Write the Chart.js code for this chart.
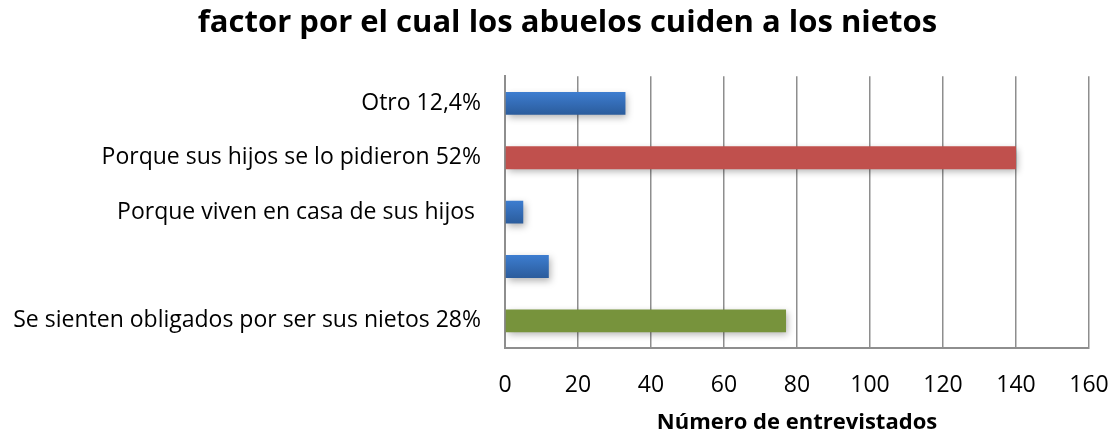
<!DOCTYPE html>
<html>
<head>
<meta charset="utf-8">
<script src="https://cdn.jsdelivr.net/npm/chart.js@4"></script>
<style>
  html, body { margin: 0; padding: 0; background: #fff; }
  #wrap { width: 1114px; height: 437px; position: relative; }
</style>
</head>
<body>
<div id="wrap"><canvas id="chart"></canvas></div>
<script>
'use strict';

// ── Data ──────────────────────────────────────────────────
const categories = [
    'Otro 12,4%',
    'Porque sus hijos se lo pidieron 52%',
    'Porque viven en casa de sus hijos ',
    '',
    'Se sienten obligados por ser sus nietos 28%'
];
const values     = [33, 140, 5, 12, 77];
const barKinds   = ['blue', 'red', 'blue', 'blue', 'green'];
const xTicks     = [0, 20, 40, 60, 80, 100, 120, 140, 160];

const FONT = "'Open Sans', sans-serif";
const BAR_PCT = 0.42;

// ── Bar fill: Office-like blue gradient, flat red/green ───
function barFill(c) {
    const kind = barKinds[c.dataIndex];
    if (kind === 'red') return '#c0504d';
    if (kind === 'green') return '#77933c';
    const chart = c.chart;
    if (!chart.chartArea) return '#3a70b8';
    const yc = chart.scales.y.getPixelForValue(c.dataIndex);
    const h = chart.chartArea.height / categories.length * BAR_PCT;
    const g = chart.ctx.createLinearGradient(0, yc - h / 2, 0, yc + h / 2);
    g.addColorStop(0, '#3d7dd0');
    g.addColorStop(1, '#2b5c9c');
    return g;
}

const shadowPlugin = {
    id: 'barShadow',
    beforeDatasetDraw(chart) {
        const ctx = chart.ctx;
        ctx.save();
        ctx.shadowColor = 'rgba(0,0,0,0.3)';
        ctx.shadowBlur = 7;
        ctx.shadowOffsetX = 2;
        ctx.shadowOffsetY = 3;
    },
    afterDatasetDraw(chart) {
        chart.ctx.restore();
    }
};

new Chart(document.getElementById('chart'), {
    type: 'bar',
    data: {
        labels: categories,
        datasets: [{
            data: values,
            backgroundColor: barFill,
            borderWidth: 0,
            categoryPercentage: 1,
            barPercentage: BAR_PCT
        }]
    },
    options: {
        indexAxis: 'y',
        responsive: true,
        maintainAspectRatio: false,
        animation: false,
        // negative right padding moves the title centre right; the x scale
        // padding below puts the plot's right edge back in place
        layout: { padding: { left: 0, right: -21, top: 0, bottom: 0 } },
        plugins: {
            legend: { display: false },
            tooltip: { enabled: false },
            title: {
                display: true,
                text: 'factor por el cual los abuelos cuiden a los nietos',
                color: '#000',
                font: { family: FONT, size: 31, weight: 'bold' },
                padding: { top: 5, bottom: 34 }
            }
        },
        scales: {
            x: {
                min: 0,
                max: 160,
                afterBuildTicks: s => { s.ticks = xTicks.map(v => ({ value: v })); },
                afterFit: s => { s.height = 89; s.paddingLeft = 0; s.paddingRight = 25; },
                grid: { color: '#8e8e8e', lineWidth: 1.5, drawTicks: false },
                border: { color: '#8e8e8e', width: 2 },
                ticks: {
                    color: '#000',
                    padding: 24,
                    font: { family: FONT, size: 23 },
                    maxRotation: 0
                },
                title: {
                    display: true,
                    text: 'Número de entrevistados',
                    color: '#000',
                    font: { family: FONT, size: 22, weight: 'bold' },
                    padding: { top: 8, bottom: 1 }
                }
            },
            y: {
                afterFit: s => { s.width = 505; },
                grid: { display: false, drawTicks: false },
                border: { color: '#8e8e8e', width: 2 },
                ticks: {
                    color: '#000',
                    padding: 24,
                    font: { family: FONT, size: 23 }
                }
            }
        }
    },
    plugins: [shadowPlugin]
});
</script>
</body>
</html>
